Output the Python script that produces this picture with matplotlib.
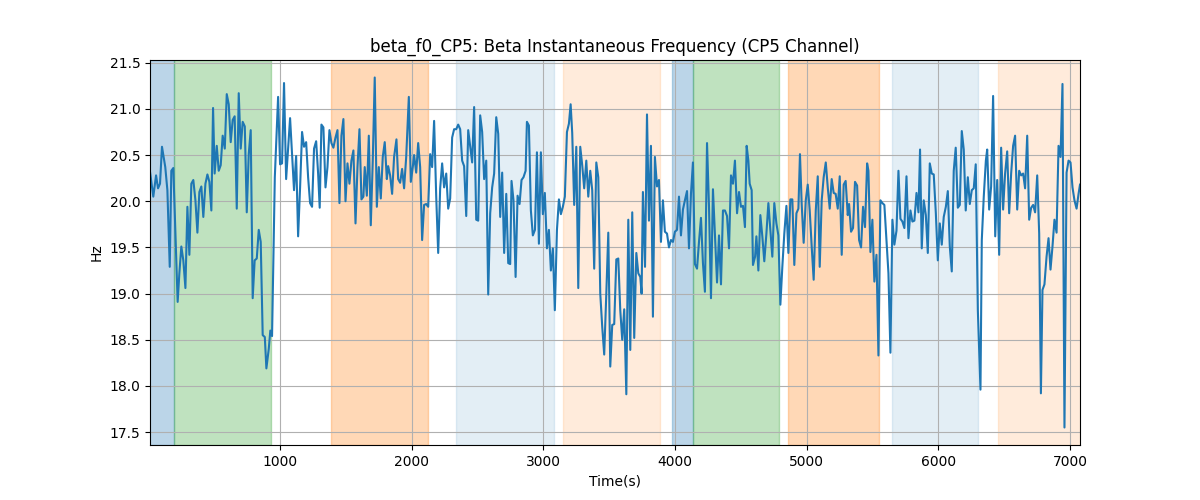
import matplotlib
matplotlib.use("Agg")
import matplotlib.pyplot as plt

# time (s) and instantaneous frequency (Hz)
time_s = [
    12, 37, 58, 73, 88, 103, 128, 144, 162, 174, 189, 205, 222, 235, 250,
    265, 281, 296, 311, 326, 341, 357, 372, 387, 402, 417, 433, 448, 463, 478,
    491, 503, 519, 534, 549, 564, 580, 595, 610, 625, 640, 655, 671, 686, 701,
    716, 732, 747, 762, 777, 792, 807, 823, 838, 853, 868, 884, 896, 914, 926,
    939,
    960, 985, 1000, 1015, 1030, 1046, 1076, 1091, 1106, 1122, 1137, 1152, 1167,
    1182, 1198, 1213, 1228, 1243, 1258, 1274, 1289, 1301, 1314, 1329, 1345,
    1360, 1375, 1390, 1405, 1421, 1436, 1451, 1466, 1481, 1497, 1512, 1527,
    1542, 1557, 1573, 1588, 1603, 1618, 1633, 1643, 1659, 1674, 1689, 1704,
    1719, 1735, 1750, 1765, 1780, 1795, 1811,
    1821, 1836, 1851, 1866, 1884, 1897, 1912, 1927, 1942, 1958, 1978, 1993,
    2008, 2018, 2034, 2049, 2064, 2079, 2094, 2110, 2125, 2140, 2155, 2170,
    2186, 2201, 2216, 2231, 2246, 2262, 2277, 2292, 2307, 2322, 2338, 2353,
    2368, 2383, 2398, 2414, 2429, 2444, 2459, 2474, 2490, 2505, 2520, 2535,
    2550, 2566, 2581, 2596, 2611, 2626, 2642, 2657, 2672, 2687, 2702, 2718,
    2733, 2748, 2758, 2773, 2789, 2804, 2819, 2834, 2849, 2865, 2875, 2890,
    2905, 2920, 2936, 2951, 2966, 2981, 2996, 3011, 3027, 3042, 3057, 3072,
    3087, 3103, 3118, 3133, 3148, 3163, 3179, 3194, 3207, 3219, 3234, 3250,
    3265, 3280, 3295, 3310, 3326, 3341, 3356, 3371, 3386, 3402, 3417, 3432,
    3447, 3462, 3478, 3493, 3508, 3523, 3538, 3554, 3569, 3584, 3599, 3614,
    3630,
    3645, 3660, 3675, 3690, 3706, 3721, 3736, 3746, 3756, 3772, 3787, 3802,
    3817, 3832, 3847, 3863, 3878, 3893, 3908, 3923, 3939, 3954, 3969, 3984,
    3999, 4015, 4030, 4045, 4060, 4075, 4091, 4106, 4121, 4136, 4151, 4167,
    4182, 4197, 4212, 4227, 4243, 4258, 4273, 4288, 4303, 4319, 4334, 4349,
    4364, 4379, 4395, 4410, 4425, 4440, 4455, 4471, 4486, 4501, 4516, 4531,
    4544,
    4557, 4567, 4582, 4592, 4608, 4618, 4633, 4648, 4663, 4678, 4694, 4709,
    4724, 4739, 4754, 4770, 4785, 4800, 4815, 4830, 4846, 4861, 4876, 4891,
    4906, 4922, 4937, 4949, 4962, 4977, 4993, 5008, 5023, 5038, 5053, 5069,
    5084, 5099, 5114, 5129, 5145, 5160, 5175, 5190, 5205, 5220, 5236, 5251,
    5266, 5281, 5296, 5312, 5322, 5337, 5352, 5367, 5383, 5398, 5413, 5428,
    5443, 5459,
    5469, 5484, 5499, 5514, 5530, 5545, 5560, 5575, 5590, 5606, 5621, 5636,
    5651, 5666, 5682, 5697, 5712, 5727, 5742, 5758, 5773, 5788, 5803, 5818,
    5834, 5849, 5861, 5874, 5889, 5905, 5920, 5935, 5950, 5965, 5981, 5996,
    6011, 6026, 6041, 6057, 6072, 6087, 6102, 6117, 6132, 6148, 6163, 6178,
    6193, 6208, 6224, 6239, 6254, 6269, 6284, 6300,
    6320, 6330, 6345, 6361, 6371, 6386, 6401, 6416, 6432, 6447, 6462, 6477,
    6492, 6507, 6523, 6538, 6553, 6568, 6583, 6599, 6614, 6629, 6644, 6659,
    6675, 6690, 6705, 6720, 6735, 6751, 6766, 6779, 6791, 6806, 6822, 6837,
    6852, 6867, 6882, 6898, 6913, 6928, 6943, 6958, 6974, 6989, 7004, 7019,
    7034, 7050, 7065, 7076,
]

freq_hz = [
    20.32, 20.05, 20.28, 20.14, 20.19, 20.59, 20.37, 20.12, 19.29, 20.33,
    20.36, 19.65, 18.91, 19.22, 19.51, 19.36, 19.06, 19.94, 19.42, 20.19,
    20.23, 20.01, 19.66, 20.10, 20.16, 19.83, 20.19, 20.29, 20.21, 19.90,
    21.01, 20.30, 20.60, 20.33, 20.39, 20.71, 20.57, 21.16, 21.05, 20.64,
    20.88, 20.92, 19.92, 21.17, 20.57, 20.86, 20.81, 19.88, 20.51, 20.77,
    18.95, 19.36, 19.38, 19.69, 19.56, 18.55, 18.53, 18.19, 18.40, 18.60,
    18.54,
    20.26, 21.13, 20.40, 20.41, 21.28, 20.24, 20.90, 20.51, 20.12, 20.49,
    19.62, 20.15, 20.75, 20.59, 20.64, 20.26, 19.98, 19.94, 20.57, 20.65,
    20.30, 19.93, 20.83, 20.80, 20.15, 20.37, 20.77, 20.63, 20.58, 20.69,
    20.77, 19.98, 20.71, 20.89, 20.00, 20.41, 20.19, 20.44, 20.55, 19.76,
    20.37, 20.78, 20.02, 20.05, 20.37, 20.06, 20.71, 19.74, 20.44, 21.34,
    19.94, 20.37, 20.03, 20.48, 20.64, 20.24,
    20.38, 20.28, 20.08, 20.48, 20.67, 20.24, 20.20, 20.35, 20.14, 20.48,
    21.13, 20.21, 20.37, 20.50, 20.31, 20.63, 20.37, 19.58, 19.96, 19.97,
    19.94, 20.51, 20.37, 20.87, 20.05, 19.44, 20.14, 20.41, 20.15, 20.30,
    19.92, 20.03, 20.69, 20.78, 20.78, 20.83, 20.78, 20.44, 20.38, 19.84,
    20.77, 20.59, 20.42, 21.02, 19.80, 19.79, 20.93, 20.75, 20.24, 20.44,
    18.99, 19.87, 20.15, 20.30, 20.91, 20.73, 19.83, 20.31, 19.44, 20.08,
    19.33, 19.32, 20.22, 20.01, 19.18, 20.06, 19.97, 20.23, 20.26, 20.33,
    20.86, 20.82, 19.90, 19.63, 19.69, 20.53, 19.54, 20.53, 19.86, 20.09,
    19.49, 19.69, 19.25, 19.49, 18.82, 19.69, 20.02, 19.86, 19.94, 20.05,
    20.75, 20.84, 21.05, 20.74, 19.96, 20.59, 19.06, 20.59, 20.39, 20.14,
    20.44, 20.05, 20.33, 20.12, 19.27, 20.42, 20.26, 19.00, 18.64, 18.34,
    19.00, 19.66, 18.21, 18.66, 18.67, 19.37, 19.38, 18.82, 18.50, 18.83,
    17.91,
    19.80, 18.39, 19.88, 18.52, 19.44, 19.22, 19.18, 19.00, 20.10, 19.29,
    20.94, 19.79, 20.60, 18.75, 20.48, 20.16, 20.23, 19.56, 20.01, 19.67,
    19.65, 19.50, 19.58, 19.56, 19.67, 19.69, 20.05, 19.63, 19.91, 20.01,
    20.11, 19.49, 20.08, 20.42, 19.32, 19.27, 19.56, 19.82, 19.33, 19.02,
    20.63, 19.94, 18.95, 20.13, 19.65, 19.12, 19.63, 19.10, 19.90, 19.90,
    19.84, 19.49, 20.28, 20.19, 20.44, 19.87, 20.10, 19.94, 19.95, 19.72,
    20.60,
    20.44, 20.19, 20.12, 19.31, 19.40, 19.62, 19.25, 19.85, 19.62, 19.35,
    19.65, 19.98, 19.69, 19.40, 19.98, 19.76, 19.63, 18.88, 19.29, 19.65,
    19.95, 19.44, 20.02, 20.02, 19.31, 19.87, 19.92, 20.51, 19.97, 19.55,
    20.01, 20.18, 19.90, 19.51, 19.15, 19.90, 20.27, 19.29, 20.01, 20.26,
    20.42, 20.15, 19.92, 20.24, 20.09, 20.08, 19.92, 20.27, 19.42, 20.18,
    20.22, 19.85, 19.97, 19.67, 19.71, 20.21, 20.17, 19.58, 19.50, 19.94,
    19.72, 20.41,
    20.33, 19.45, 19.80, 19.13, 19.42, 18.33, 20.01, 19.98, 19.96, 19.58,
    19.22, 18.36, 19.80, 19.53, 19.68, 20.33, 19.81, 19.78, 19.71, 20.27,
    19.60, 19.90, 19.78, 19.79, 20.09, 19.88, 20.56, 19.49, 20.01, 19.85,
    19.44, 20.41, 20.30, 20.29, 19.87, 19.36, 19.76, 19.53, 19.83, 19.94,
    20.11, 19.51, 19.24, 20.33, 20.58, 19.93, 19.96, 20.76, 20.56, 19.90,
    20.26, 19.97, 20.12, 20.14, 20.40, 18.82,
    17.96, 19.58, 20.05, 20.44, 20.56, 19.91, 20.16, 21.14, 19.62, 20.23,
    19.42, 20.58, 19.91, 20.30, 20.54, 19.87, 20.30, 20.60, 20.71, 19.91,
    20.33, 20.28, 20.30, 20.14, 20.71, 19.80, 19.93, 19.96, 19.88, 20.28,
    19.65, 17.92, 19.04, 19.10, 19.40, 19.60, 19.26, 19.51, 19.80, 19.66,
    20.60, 20.48, 21.27, 17.55, 20.31, 20.44, 20.42, 20.15, 20.01, 19.92,
    20.08, 20.18,
]

# shaded phases: start, end, kind
phase_start = [0, 197, 1388, 2338, 3151, 3979, 4134, 4861, 5651, 6451]
phase_end = [197, 929, 2122, 3080, 3886, 4134, 4792, 5550, 6305, 7100]
phase_kind = ["a", "b", "c", "d", "e", "a", "b", "c", "d", "e"]

phase_style = {
    "a": ("tab:blue", 0.3),
    "b": ("tab:green", 0.3),
    "c": ("tab:orange", 0.3),
    "d": ("tab:blue", 0.12),
    "e": ("tab:orange", 0.15),
}

fig, ax = plt.subplots(figsize=(12, 5), dpi=100)

for s, e, k in zip(phase_start, phase_end, phase_kind):
    color, alpha = phase_style[k]
    ax.axvspan(s, e, color=color, alpha=alpha)

ax.plot(time_s, freq_hz, color="tab:blue", linewidth=1.5)

ax.set_xlim(time_s[0], time_s[-1])
ax.set_title("beta_f0_CP5: Beta Instantaneous Frequency (CP5 Channel)")
ax.set_xlabel("Time(s)")
ax.set_ylabel("Hz")
ax.grid(True)

fig.savefig("out.png")
